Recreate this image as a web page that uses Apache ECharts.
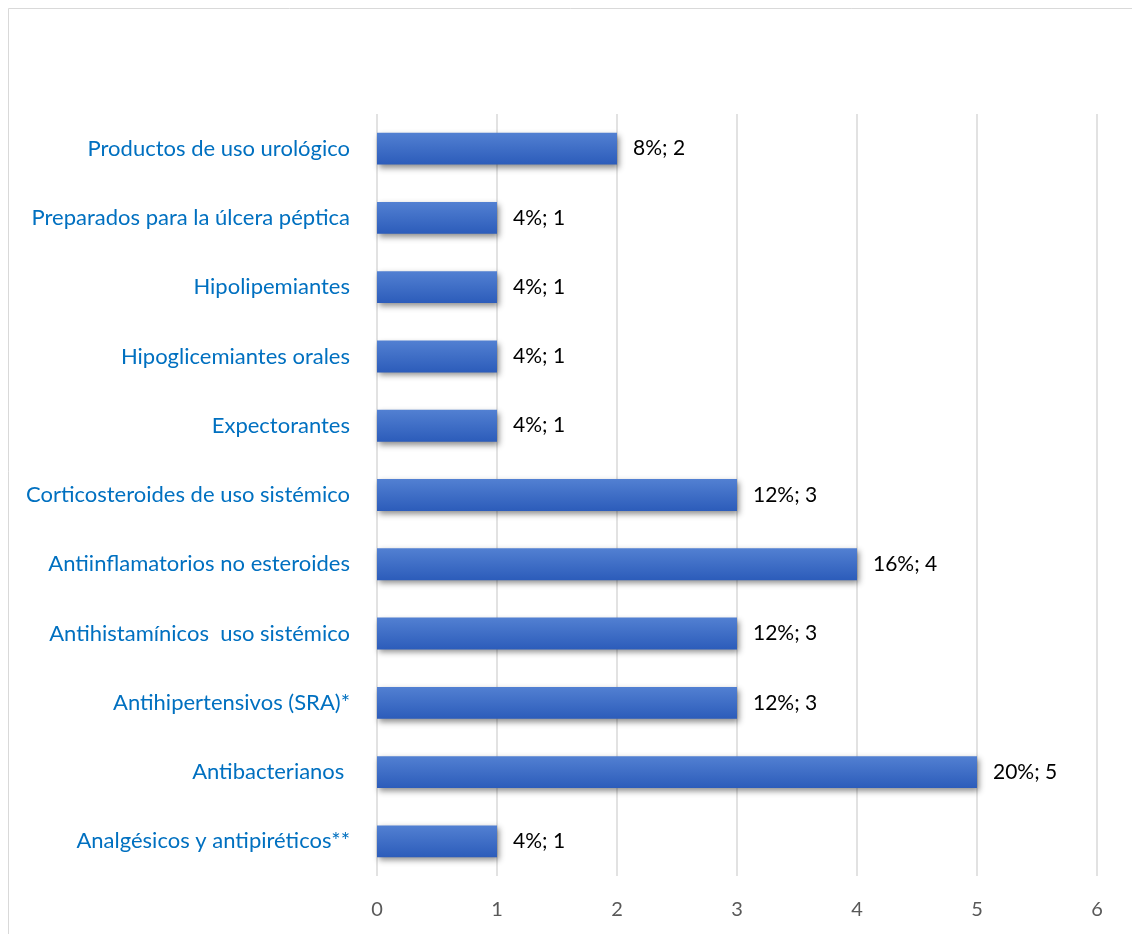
<!DOCTYPE html>
<html>
<head>
<meta charset="utf-8">
<script src="https://cdn.jsdelivr.net/npm/echarts@6/dist/echarts.min.js"></script>
<style>
  html, body { margin: 0; padding: 0; background: #fff; }
  #chart { width: 1132px; height: 934px; }
</style>
</head>
<body>
<div id="chart"></div>
<script>
// Categories listed bottom to top (ECharts draws the first category at the bottom)
const categories = [
  'Analgésicos y antipiréticos**',
  'Antibacterianos ',
  'Antihipertensivos (SRA)*',
  'Antihistamínicos  uso sistémico',
  'Antiinflamatorios no esteroides',
  'Corticosteroides de uso sistémico',
  'Expectorantes',
  'Hipoglicemiantes orales',
  'Hipolipemiantes',
  'Preparados para la úlcera péptica',
  'Productos de uso urológico'
];
const counts = [1, 5, 3, 3, 4, 3, 1, 1, 1, 1, 2];
const percents = [4, 20, 12, 12, 16, 12, 4, 4, 4, 4, 8];
const xTicks = [0, 1, 2, 3, 4, 5, 6];

const chart = echarts.init(document.getElementById('chart'));
const fontFamily = 'Lato, "Open Sans", sans-serif';

chart.setOption({
  backgroundColor: '#ffffff',
  animation: false,
  graphic: [{
    type: 'rect',
    shape: { x: 8.5, y: 8.5, width: 1140, height: 940 },
    style: { fill: 'none', stroke: '#d9d9d9', lineWidth: 1 },
    silent: true
  }],
  grid: { left: 377, right: 35, top: 114, bottom: 58, containLabel: false },
  xAxis: {
    type: 'value',
    min: xTicks[0],
    max: xTicks[xTicks.length - 1],
    interval: 1,
    axisLine: { show: false },
    axisTick: { show: false },
    axisLabel: { color: '#595959', fontSize: 20, fontFamily, margin: 24 },
    splitLine: { show: true, lineStyle: { color: '#d9d9d9', width: 1.5 } }
  },
  yAxis: {
    type: 'category',
    data: categories,
    axisLine: { show: false },
    axisTick: { show: false },
    axisLabel: { color: '#0070C0', fontSize: 22, fontFamily, margin: 27 }
  },
  series: [{
    type: 'bar',
    data: counts,
    barWidth: '46%',
    itemStyle: {
      color: new echarts.graphic.LinearGradient(0, 0, 0, 1, [
        { offset: 0, color: '#5280d2' },
        { offset: 1, color: '#2c5cba' }
      ]),
      shadowColor: 'rgba(0,0,0,0.45)',
      shadowBlur: 6,
      shadowOffsetX: 2,
      shadowOffsetY: 3
    },
    label: {
      show: true,
      position: 'right',
      distance: 16,
      color: '#000000',
      fontSize: 21,
      fontFamily,
      formatter: p => percents[p.dataIndex] + '%; ' + counts[p.dataIndex]
    }
  }]
});
</script>
</body>
</html>
